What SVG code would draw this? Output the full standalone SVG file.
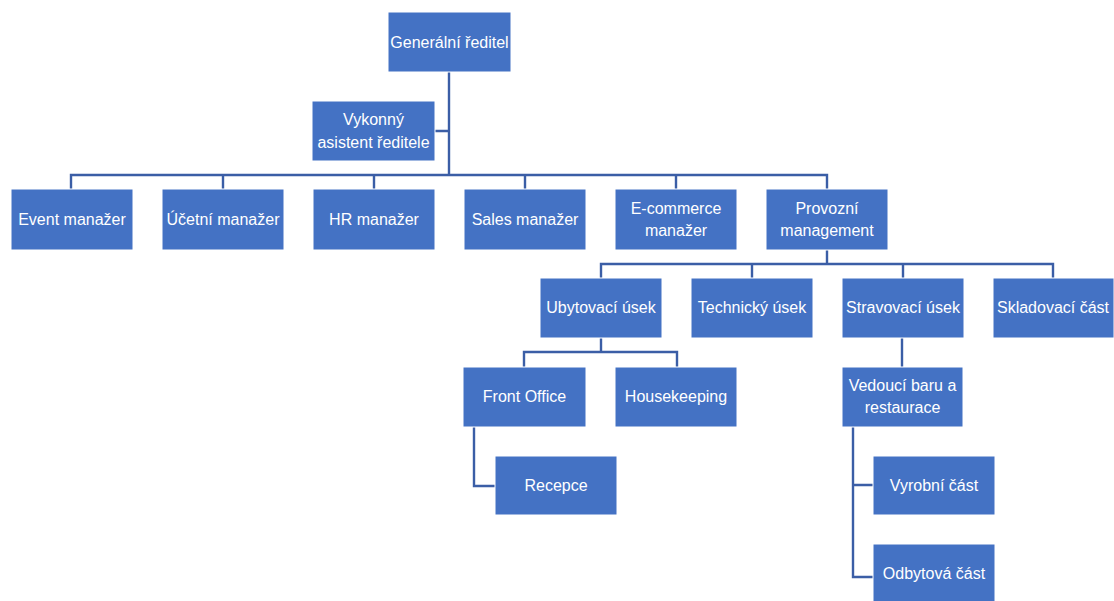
<svg xmlns="http://www.w3.org/2000/svg" width="1114" height="601" viewBox="0 0 1114 601">
<style>
.b{fill:#4472C4;stroke:#ffffff;stroke-width:1}
.t{fill:#ffffff;font-family:"Liberation Sans",Arial,sans-serif;font-size:16px;text-anchor:middle;dominant-baseline:central}
.c{fill:none;stroke:#3B5EA6;stroke-width:2.4}
</style>
<rect width="1114" height="601" fill="#ffffff"/>
<g id="connectors">
<path class="c" d="M449 72V175M435 131H449M71 189V175H827V189M223 175V189M374 175V189M525 175V189M676 175V189"/>
<path class="c" d="M827 250V264M601 278V264H1053V278M752 264V278M903 264V278"/>
<path class="c" d="M601 338V352M524 367V352H677V367"/>
<path class="c" d="M474 427V486H495"/>
<path class="c" d="M902 338V367"/>
<path class="c" d="M853 427V577H873M853 485H873"/>
</g>
<g id="n-general"><rect class="b" x="388" y="12" width="123" height="60"/><text class="t" x="449.5" y="42">Generální ředitel</text></g>
<g id="n-asistent"><rect class="b" x="312" y="101" width="123" height="60"/><text class="t" x="373.5" y="119">Vykonný</text><text class="t" x="373.5" y="142">asistent ředitele</text></g>
<g id="n-event"><rect class="b" x="11" y="189" width="122" height="61"/><text class="t" x="72" y="219.5">Event manažer</text></g>
<g id="n-ucetni"><rect class="b" x="162" y="189" width="122" height="61"/><text class="t" x="223" y="219.5">Účetní manažer</text></g>
<g id="n-hr"><rect class="b" x="313" y="189" width="122" height="61"/><text class="t" x="374" y="219.5">HR manažer</text></g>
<g id="n-sales"><rect class="b" x="464" y="189" width="122" height="61"/><text class="t" x="525" y="219.5">Sales manažer</text></g>
<g id="n-ecommerce"><rect class="b" x="615" y="189" width="122" height="61"/><text class="t" x="676" y="208">E-commerce</text><text class="t" x="676" y="230">manažer</text></g>
<g id="n-provozni"><rect class="b" x="766" y="189" width="122" height="61"/><text class="t" x="827" y="208">Provozní</text><text class="t" x="827" y="230">management</text></g>
<g id="n-ubytovaci"><rect class="b" x="540" y="278" width="122" height="60"/><text class="t" x="601" y="307">Ubytovací úsek</text></g>
<g id="n-technicky"><rect class="b" x="691" y="278" width="122" height="60"/><text class="t" x="752" y="307">Technický úsek</text></g>
<g id="n-stravovaci"><rect class="b" x="842" y="278" width="122" height="60"/><text class="t" x="903" y="307">Stravovací úsek</text></g>
<g id="n-skladovaci"><rect class="b" x="993" y="278" width="121" height="60"/><text class="t" x="1053" y="307">Skladovací část</text></g>
<g id="n-frontoffice"><rect class="b" x="463" y="367" width="123" height="60"/><text class="t" x="524.5" y="396">Front Office</text></g>
<g id="n-housekeeping"><rect class="b" x="615" y="367" width="122" height="60"/><text class="t" x="676" y="396">Housekeeping</text></g>
<g id="n-recepce"><rect class="b" x="495" y="456" width="122" height="59"/><text class="t" x="556" y="485">Recepce</text></g>
<g id="n-vedouci"><rect class="b" x="842" y="367" width="121" height="60"/><text class="t" x="902.5" y="385">Vedoucí baru a</text><text class="t" x="902.5" y="407">restaurace</text></g>
<g id="n-vyrobni"><rect class="b" x="873" y="456" width="122" height="59"/><text class="t" x="934" y="485">Vyrobní část</text></g>
<g id="n-odbytova"><rect class="b" x="873" y="544" width="122" height="60"/><text class="t" x="934" y="573">Odbytová část</text></g>
</svg>
